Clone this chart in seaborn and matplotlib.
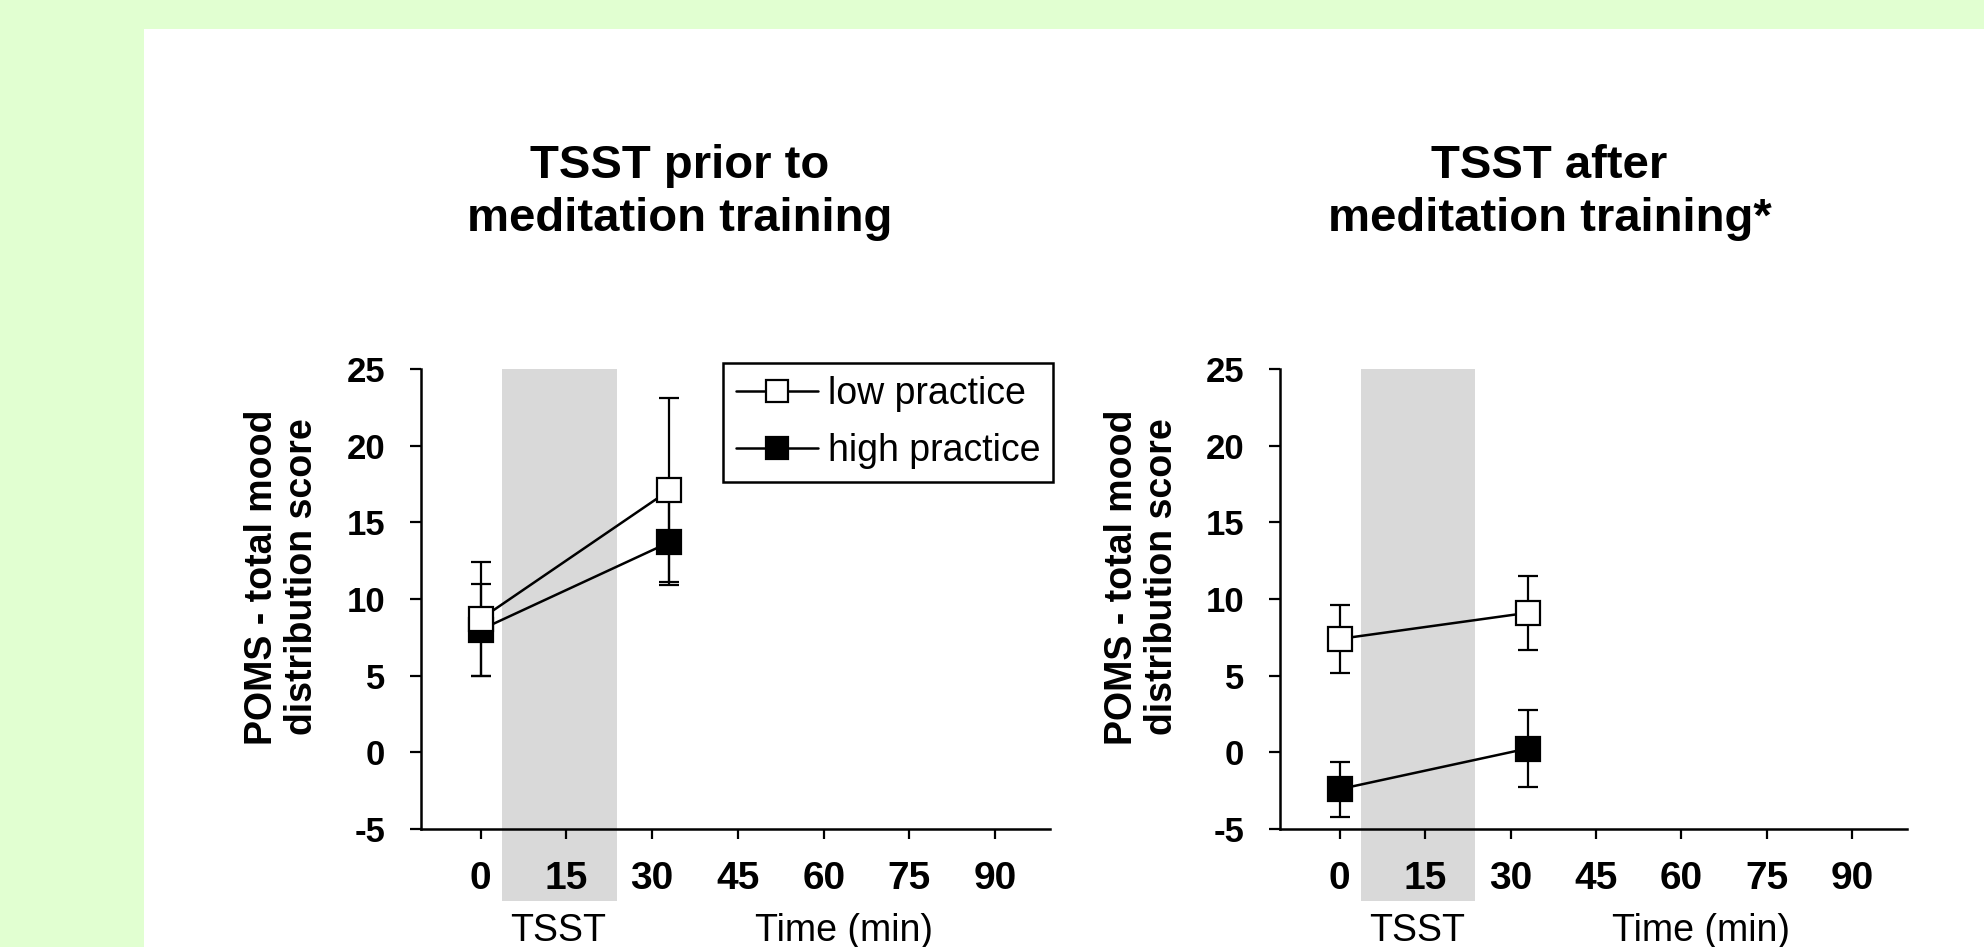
import matplotlib
matplotlib.use("Agg")
import matplotlib.pyplot as plt
import matplotlib.transforms as mtransforms
from matplotlib.patches import Rectangle
from matplotlib.lines import Line2D
import pandas as pd
import seaborn as sns

# --- data ---
times = [0, 33]
groups = ["low practice", "high practice"]
panels = ["before", "after"]
panel_titles = ["TSST prior to\nmeditation training", "TSST after\nmeditation training*"]

before_low = [8.7, 17.1]
before_low_err = [3.7, 6.0]
before_high = [8.0, 13.7]
before_high_err = [3.0, 2.8]

after_low = [7.4, 9.1]
after_low_err = [2.2, 2.4]
after_high = [-2.4, 0.25]
after_high_err = [1.8, 2.5]

x_ticks = [0, 15, 30, 45, 60, 75, 90]
y_ticks = [-5, 0, 5, 10, 15, 20, 25]
tsst_window = (3.7, 23.8)

rows = []
for panel, lo, lo_e, hi, hi_e in [("before", before_low, before_low_err, before_high, before_high_err),
                                  ("after", after_low, after_low_err, after_high, after_high_err)]:
    for t, v, e in zip(times, lo, lo_e):
        rows.append((panel, "low practice", t, v, e))
    for t, v, e in zip(times, hi, hi_e):
        rows.append((panel, "high practice", t, v, e))
df = pd.DataFrame(rows, columns=["panel", "group", "time", "score", "err"])

sns.set_theme(style="ticks")
plt.rcParams["font.family"] = ["Liberation Sans", "DejaVu Sans"]
plt.rcParams["text.color"] = "black"
plt.rcParams["axes.unicode_minus"] = False

fig = plt.figure(figsize=(19.84, 9.47), dpi=100, facecolor="#e1ffd1")
fig.add_artist(Rectangle((144 / 1984, 0), 1, 1 - 29 / 947, transform=fig.transFigure,
                         facecolor="white", edgecolor="none", zorder=0))

axes = [fig.add_axes([0.2123, 0.1246, 0.3170, 0.4857]),
        fig.add_axes([0.6454, 0.1246, 0.3157, 0.4857])]
title_x = [0.3427, 0.781]
ylabel_x = [0.1421, 0.5755]

face = {"low practice": "white", "high practice": "black"}
order = {"low practice": 4, "high practice": 3}

for i, (ax, panel) in enumerate(zip(axes, panels)):
    ax.set_facecolor("white")
    ax.axvspan(*tsst_window, ymin=-0.157, ymax=1, color="#d9d9d9", lw=0, clip_on=False, zorder=0)

    pdf = df[df.panel == panel]
    for g in ["high practice", "low practice"]:
        sub = pdf[pdf.group == g]
        ax.errorbar(sub.time, sub.score, yerr=sub.err, fmt="none", ecolor="black",
                    elinewidth=1.6, capsize=7, capthick=1.6, zorder=2)
    for g in ["high practice", "low practice"]:
        sub = pdf[pdf.group == g]
        sns.lineplot(data=sub, x="time", y="score", ax=ax, color="black", lw=1.8,
                     marker="s", markersize=17, markerfacecolor=face[g],
                     markeredgecolor="black", markeredgewidth=1.6, zorder=order[g])

    ax.set_xlim(-10.4, 99.6)
    ax.set_ylim(-5, 25)
    ax.set_xticks(x_ticks)
    ax.set_yticks(y_ticks)
    ax.set_xlabel("")
    ax.set_ylabel("")
    ax.tick_params(axis="x", direction="out", length=7, width=1.6, pad=16,
                   labelsize=28, colors="black")
    ax.tick_params(axis="y", direction="out", length=8, width=1.6, pad=18,
                   labelsize=25, colors="black")
    for lab in ax.get_xticklabels() + ax.get_yticklabels():
        lab.set_fontweight("bold")
    sns.despine(ax=ax)
    for s in ["left", "bottom"]:
        ax.spines[s].set_linewidth(1.8)
        ax.spines[s].set_color("black")

    trans = mtransforms.blended_transform_factory(ax.transData, ax.transAxes)
    ax.text(13.6, -0.183, "TSST", transform=trans, ha="center", va="top", fontsize=27)
    ax.text(63.5, -0.183, "Time (min)", transform=trans, ha="center", va="top", fontsize=27)

    fig.text(title_x[i], 0.797, panel_titles[i], ha="center", va="center",
             fontsize=34, fontweight="bold", linespacing=1.27)
    fig.text(ylabel_x[i], 0.3907, "POMS - total mood\ndistribution score", rotation=90,
             ha="center", va="center", fontsize=27, fontweight="bold", linespacing=1.15)

handles = [Line2D([], [], color="black", lw=1.8, marker="s", markersize=16,
                  markerfacecolor=face[g], markeredgecolor="black", markeredgewidth=1.6)
           for g in groups]
leg = axes[0].legend(handles, groups, loc="upper right", bbox_to_anchor=(1.005, 1.013),
                     borderaxespad=0, fontsize=27, frameon=True, fancybox=False,
                     framealpha=1, edgecolor="black", handlelength=2.2,
                     handletextpad=0.25, labelspacing=0.55, borderpad=0.35)
leg.get_frame().set_linewidth(1.8)
leg.set_zorder(10)

fig.savefig("out.png", dpi=100, facecolor=fig.get_facecolor())
